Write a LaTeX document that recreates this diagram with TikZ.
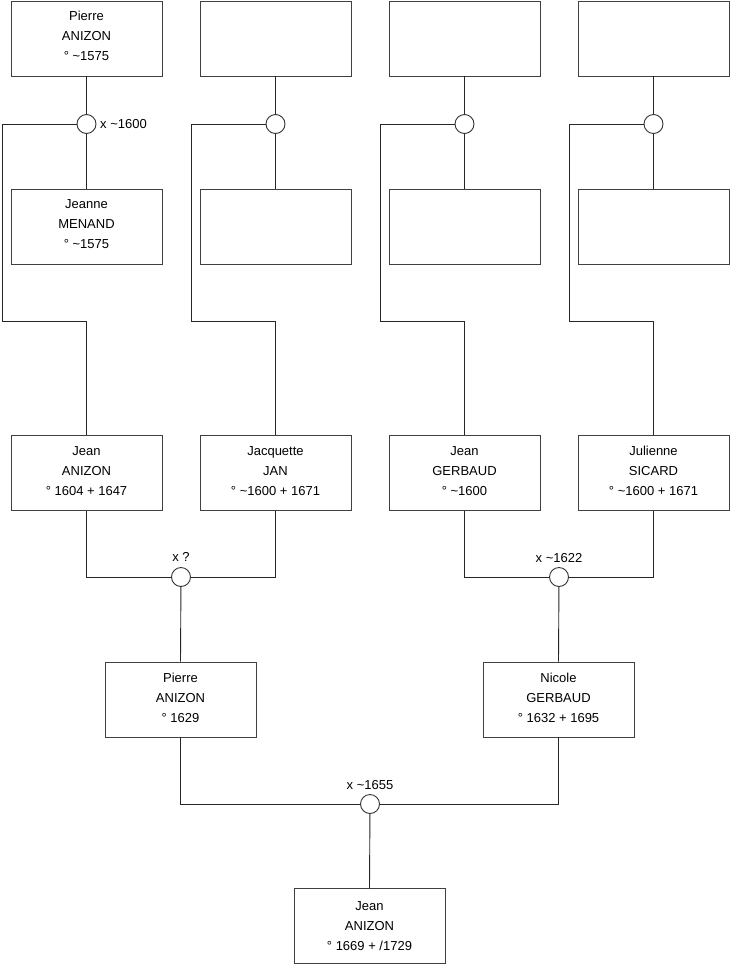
\documentclass[tikz,border=0pt]{standalone}
\usepackage{fontspec}
\setmainfont{Liberation Sans}
\newcommand{\tl}{\textasciitilde}
\newcommand{\persbox}[4][2.5]{\node[person,label={[ptext,yshift=#1pt]center:{\strut#4\strut}}] (#2) at (#3) {};}
\begin{document}
\begin{tikzpicture}[x=1pt,y=-1pt,
  person/.style={draw=black!75,line width=0.9pt,fill=white,minimum width=151pt,minimum height=75pt,inner sep=0pt},
  ptext/.style={align=center,font=\fontsize{13}{20}\selectfont,inner sep=0pt},
  union/.style={circle,draw=black!80,line width=0.9pt,fill=white,minimum size=19pt,inner sep=0pt},
  link/.style={draw=black!85,line width=0.9pt},
  lab/.style={font=\fontsize{13}{15}\selectfont,inner sep=0pt}]
\useasboundingbox (0,0) rectangle (740,975);
% row 1
\persbox{p1}{86.5,38.5}{Pierre\\ANIZON\\° \tl1575}
\persbox{p2}{275.5,38.5}{}
\persbox{p3}{464.5,38.5}{}
\persbox{p4}{653.5,38.5}{}
% row 2
\persbox{m1}{86.5,227}{Jeanne\\MENAND\\° \tl1575}
\persbox{m2}{275.5,227}{}
\persbox{m3}{464.5,227}{}
\persbox{m4}{653.5,227}{}
% row 3
\persbox[1.5]{j1}{86.5,473}{Jean\\ANIZON\\° 1604 + 1647}
\persbox[1.5]{j2}{275.5,473}{Jacquette\\JAN\\° \tl1600 + 1671}
\persbox[1.5]{j3}{464.5,473}{Jean\\GERBAUD\\° \tl1600}
\persbox[1.5]{j4}{653.5,473}{Julienne\\SICARD\\° \tl1600 + 1671}
% row 4
\persbox[1.5]{k1}{180.5,699.5}{Pierre\\ANIZON\\° 1629}
\persbox[1.5]{k2}{558.5,699.5}{Nicole\\GERBAUD\\° 1632 + 1695}
% row 5
\persbox[-0.5]{z}{369.5,926}{Jean\\ANIZON\\° 1669 + /1729}
% unions
\node[union] (c1) at (86.5,124) {};
\node[union] (c2) at (275.5,124) {};
\node[union] (c3) at (464.5,124) {};
\node[union] (c4) at (653.5,124) {};
\node[union] (c5) at (181,577) {};
\node[union] (c6) at (559,577) {};
\node[union] (c7) at (370,804) {};
% labels
\node[lab,anchor=west] (l1) at (100,124) {x \tl1600};
\node[lab] (l5) at (181,557) {x ?};
\node[lab] (l6) at (559,558) {x \tl1622};
\node[lab] (l7) at (370,785) {x \tl1655};
% corner coordinates
\foreach \i/\x in {1/2,2/191,3/380,4/569}{
  \coordinate (a\i) at (\x,124);
  \coordinate (b\i) at (\x,321);
}
% connectors
\foreach \i in {1,2,3,4}{
  \path[link] (p\i) -- (c\i);
  \path[link] (c\i) -- (m\i);
  \path[link] (c\i.west) -- (a\i) -- (b\i) -| (j\i.north);
}
\path[link] (j1.south) |- (c5.west);
\path[link] (j2.south) |- (c5.east);
\path[link] (c5) -- (k1.north);
\path[link] (j3.south) |- (c6.west);
\path[link] (j4.south) |- (c6.east);
\path[link] (c6) -- (k2.north);
\path[link] (k1.south) |- (c7.west);
\path[link] (k2.south) |- (c7.east);
\path[link] (c7) -- (z.north);
\end{tikzpicture}
\end{document}
